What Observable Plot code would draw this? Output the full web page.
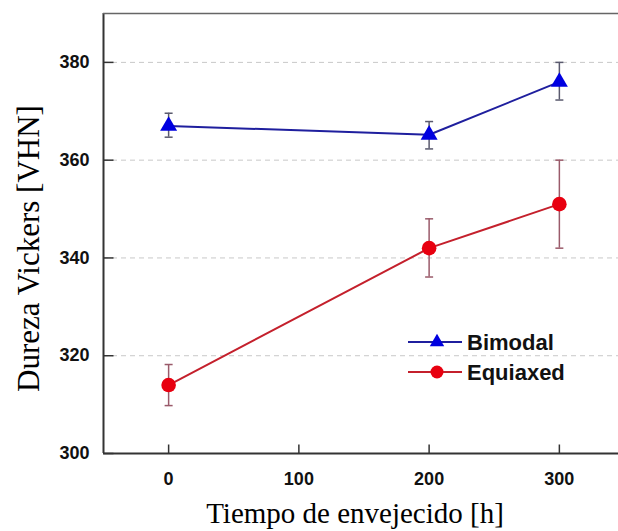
<!DOCTYPE html>
<html><head><meta charset="utf-8">
<script src="https://cdn.jsdelivr.net/npm/d3@7"></script>
<script src="https://cdn.jsdelivr.net/npm/@observablehq/plot@0.6"></script>
<style>
body{margin:0;background:#fff;}
#chart{position:relative;width:618px;height:531px;overflow:hidden;}
#legend{position:absolute;left:0;top:0;pointer-events:none;}
</style></head><body><div id="chart"></div>
<script>
// ---- data ----
const times = [0, 200, 300];
const bimodal = [367, 365.2, 376];
const bimodalLo = [364.7, 362.3, 372.3];
const bimodalHi = [369.6, 367.9, 380];
const equiaxed = [314, 342, 351];
const equiaxedLo = [309.8, 336.1, 342];
const equiaxedHi = [318.2, 348, 360];
const seriesNames = ["Bimodal", "Equiaxed"];
const lineColors = ["#1f1f9e", "#c4202c"];
const markColors = ["#0000e0", "#e80010"];
const barColors = ["#5a5a6e", "#9a5a6a"];
const xTicks = [0, 100, 200, 300];
const yTicks = [300, 320, 340, 360, 380];
const gridTicks = [320, 340, 360, 380];
const xDomain = [-50, 345.4];
const yDomain = [300, 390];
const xTitle = "Tiempo de envejecido [h]";
const yTitle = "Dureza Vickers [VHN]";

const rows = [];
[[bimodal, bimodalLo, bimodalHi], [equiaxed, equiaxedLo, equiaxedHi]].forEach(([v, lo, hi], s) => {
  times.forEach((t, i) => rows.push({series: seriesNames[s], t, v: v[i], lo: lo[i], hi: hi[i]}));
});
const bRows = rows.filter(d => d.series === seriesNames[0]);
const eRows = rows.filter(d => d.series === seriesNames[1]);

const cap = {draw(ctx, size) { const w = Math.sqrt(size / Math.PI); ctx.moveTo(-w, 0); ctx.lineTo(w, 0); }};
const tickUp = {draw(ctx, size) { const w = Math.sqrt(size / Math.PI); ctx.moveTo(0, 0); ctx.lineTo(0, -w); }};
const tickRight = {draw(ctx, size) { const w = Math.sqrt(size / Math.PI); ctx.moveTo(0, 0); ctx.lineTo(w, 0); }};
const sans = "'Liberation Sans', Arial, sans-serif";
const serif = "'Liberation Serif', 'Times New Roman', serif";

const chart = Plot.plot({
  width: 618, height: 531,
  marginLeft: 103, marginRight: 0, marginTop: 13, marginBottom: 78,
  style: {fontFamily: sans, background: "#fff"},
  x: {domain: xDomain, ticks: xTicks},
  y: {domain: yDomain, ticks: yTicks},
  color: {domain: seriesNames, range: lineColors},
  marks: [
    Plot.gridY(gridTicks, {stroke: "#c8c8c8", strokeOpacity: 1, strokeDasharray: "5,4", strokeWidth: 1}),
    Plot.ruleX(bRows, {x: "t", y1: "lo", y2: "hi", stroke: barColors[0], strokeWidth: 1.5}),
    Plot.ruleX(eRows, {x: "t", y1: "lo", y2: "hi", stroke: barColors[1], strokeWidth: 1.5}),
    Plot.dot(bRows, {x: "t", y: "lo", symbol: cap, r: 4, stroke: barColors[0], strokeWidth: 1.5, fill: "none"}),
    Plot.dot(bRows, {x: "t", y: "hi", symbol: cap, r: 4, stroke: barColors[0], strokeWidth: 1.5, fill: "none"}),
    Plot.dot(eRows, {x: "t", y: "lo", symbol: cap, r: 4, stroke: barColors[1], strokeWidth: 1.5, fill: "none"}),
    Plot.dot(eRows, {x: "t", y: "hi", symbol: cap, r: 4, stroke: barColors[1], strokeWidth: 1.5, fill: "none"}),
    Plot.line(rows, {x: "t", y: "v", z: "series", stroke: "series", strokeWidth: 2}),
    Plot.dot(bRows, {x: "t", y: "v", symbol: "triangle", r: 6.3, fill: markColors[0], stroke: "none"}),
    Plot.dot(eRows, {x: "t", y: "v", symbol: "circle", r: 7.3, fill: markColors[1], stroke: "none"}),
    // inward ticks
    Plot.dot(xTicks, {x: d => d, y: () => yDomain[0], symbol: tickUp, r: 9, stroke: "#333", strokeWidth: 1.5, fill: "none"}),
    Plot.dot(yTicks, {y: d => d, x: () => xDomain[0], symbol: tickRight, r: 10, stroke: "#333", strokeWidth: 1.5, fill: "none"}),
    Plot.axisX(xTicks, {tickSize: 0, tickPadding: 19, fontSize: 18, fontWeight: "bold", fill: "#111", label: null}),
    Plot.axisY(yTicks, {tickSize: 0, tickPadding: 14, fontSize: 18, fontWeight: "bold", fill: "#111", label: null}),
    Plot.ruleY([yDomain[0]], {stroke: "#333", strokeWidth: 2}),
    Plot.ruleX([xDomain[0]], {stroke: "#333", strokeWidth: 2}),
    Plot.ruleY([yDomain[1]], {stroke: "#666", strokeWidth: 1.5}),
    Plot.text([xTitle], {frameAnchor: "bottom", dx: -6, dy: 60, fontFamily: serif, fontSize: 29, fill: "#000", lineAnchor: "middle"}),
    Plot.text([yTitle], {frameAnchor: "left", textAnchor: "middle", dx: -74, dy: 15, rotate: -90, fontFamily: serif, fontSize: 31, fill: "#000", lineAnchor: "middle"})
  ]
});
document.getElementById("chart").appendChild(chart);

// legend inside the plot area
const leg = d3.select("#chart").append("svg").attr("id", "legend").attr("width", 618).attr("height", 531);
seriesNames.forEach((name, i) => {
  const g = leg.append("g").attr("transform", `translate(408,${342 + i * 30})`);
  g.append("line").attr("x1", 0).attr("x2", 54).attr("stroke", lineColors[i]).attr("stroke-width", 2);
  if (i === 0) g.append("path").attr("d", d3.symbol(d3.symbolTriangle, 90)()).attr("transform", "translate(29,0)").attr("fill", markColors[i]);
  else g.append("circle").attr("cx", 29).attr("r", 6.5).attr("fill", markColors[i]);
  g.append("text").attr("x", 59).attr("y", 8).attr("font-family", sans).attr("font-weight", "bold").attr("font-size", 22).attr("fill", "#111").text(name);
});
</script>
</body></html>
